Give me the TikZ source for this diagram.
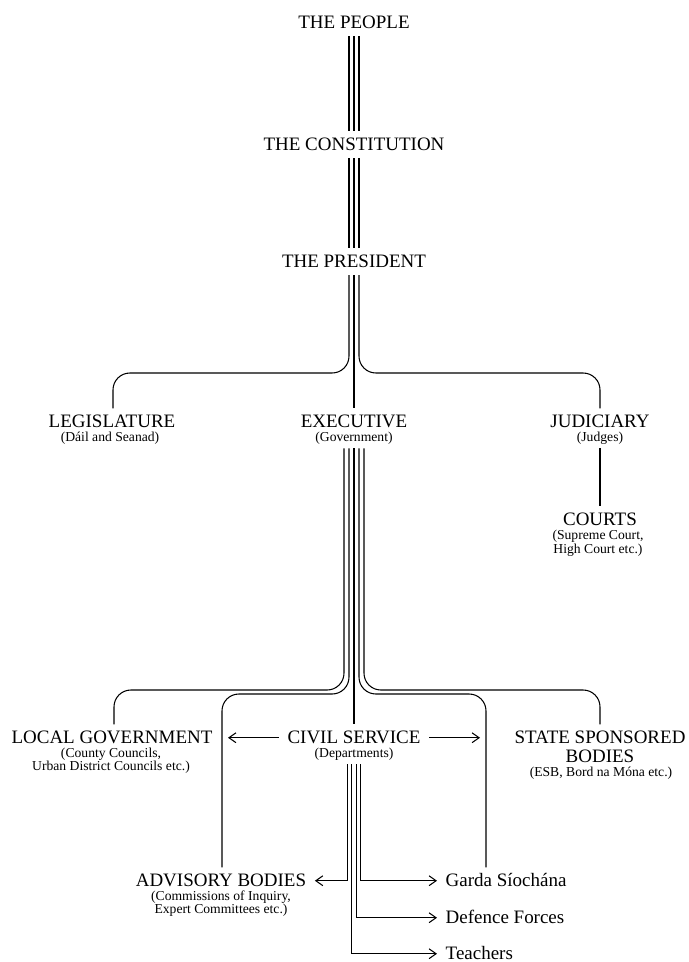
\documentclass[tikz,border=0pt]{standalone}
\usepackage{fontspec}
\setmainfont{Liberation Serif}
\usetikzlibrary{calc}
\usetikzlibrary{arrows.meta}

\tikzset{
  big/.style={font=\fontsize{13.5}{16}\selectfont, anchor=base,
    inner xsep=6pt, inner ysep=4pt, text height=9pt, text depth=1.5pt},
  small/.style={font=\fontsize{9.7}{11}\selectfont, anchor=base,
    inner xsep=2pt, inner ysep=3pt},
  link/.style={line width=0.75pt, rounded corners=12pt},
  feed/.style={line width=0.75pt, -{Straight Barb[length=5pt,width=7pt]}}
}

\begin{document}
\begin{tikzpicture}[x=0.025cm, y=-0.025cm]
\useasboundingbox (0,0) rectangle (689,962);

\def\axis{354}
\def\gap{5}
\def\fan{4.5}

%---------------------------------------
% Top of the chain
%---------------------------------------
\node[big] (people)       at (\axis,28)  {THE PEOPLE};
\node[big] (constitution) at (\axis,150) {THE CONSTITUTION};
\node[big] (president)    at (\axis,267) {THE PRESIDENT};

\foreach \dx in {-\gap,0,\gap} {
  \draw[link] ($(people.south)+(\dx,0)$) -- ($(constitution.north)+(\dx,0)$);
  \draw[link] ($(constitution.south)+(\dx,0)$) -- ($(president.north)+(\dx,0)$);
}

%---------------------------------------
% Three branches
%---------------------------------------
\node[big]   (legis)    at (112,427)   {LEGISLATURE};
\node[small] (legisSub) at (110,441)   {(Dáil and Seanad)};
\node[big]   (exec)     at (\axis,427) {EXECUTIVE};
\node[small] (execSub)  at (\axis,441) {(Government)};
\node[big]   (judic)    at (600,427)   {JUDICIARY};
\node[small] (judicSub) at (600,441)   {(Judges)};

\coordinate (legisTurn) at (113,373);
\coordinate (judicTurn) at (600,373);

\draw[link] ($(president.south)+(-\gap,0)$) |- (legisTurn) -- (legisTurn |- legis.north);
\draw[link] (president.south) -- (exec.north);
\draw[link] ($(president.south)+(\gap,0)$) |- (judicTurn) -- (judicTurn |- judic.north);

% ---- courts under the judges ----
\node[big]   (courts)     at (600,525) {COURTS};
\node[small] (courtsSubA) at (598,539) {(Supreme Court,};
\node[small] (courtsSubB) at (598,553) {High Court etc.)};
\draw[link] (judicSub.south) -- (courts.north);

%---------------------------------------
% Under the executive
%---------------------------------------
\node[big]   (local)     at (112,743)   {LOCAL GOVERNMENT};
\node[small] (localSubA) at (111,757)   {(County Councils,};
\node[small] (localSubB) at (111,770)   {Urban District Councils etc.)};
\node[big]   (civil)     at (\axis,743) {CIVIL SERVICE};
\node[small] (civilSub)  at (\axis,757) {(Departments)};
\node[big]   (state)     at (600,743)   {STATE SPONSORED};
\node[big]   (stateB)    at (600,762)   {BODIES};
\node[small] (stateSub)  at (601,776)   {(ESB, Bord na Móna etc.)};

\node[big]   (advisory)     at (221,886) {ADVISORY BODIES};
\node[small] (advisorySubA) at (221,900) {(Commissions of Inquiry,};
\node[small] (advisorySubB) at (221,913) {Expert Committees etc.)};
\node[big, anchor=base west] (garda)    at (437,886) {Garda Síochána};
\node[big, anchor=base west] (defence)  at (437,923) {Defence Forces};
\node[big, anchor=base west] (teachers) at (437,959) {Teachers};

\coordinate (localTurn) at (114,690);
\coordinate (advTurn)   at (222,694);
\coordinate (gardaTurn) at (486,694);
\coordinate (stateTurn) at (600,690);

\draw[link] ($(execSub.south)+(-2*\gap,0)$) |- (localTurn) -- (localTurn |- local.north);
\draw[link] ($(execSub.south)+(-\gap,0)$) |- (advTurn) -- (advTurn |- advisory.north);
\draw[link] (execSub.south) -- (civil.north);
\draw[link] ($(execSub.south)+(\gap,0)$) |- (gardaTurn) -- (gardaTurn |- garda.north);
\draw[link] ($(execSub.south)+(2*\gap,0)$) |- (stateTurn) -- (stateTurn |- state.north);

% ---- civil service arrows ----
\draw[feed] (civil.west) -- ($(civil.west -| advTurn)+(6,0)$);
\draw[feed] (civil.east) -- ($(civil.east -| gardaTurn)+(-6,0)$);

\draw[feed] ($(civilSub.south)+(-1.5*\fan,0)$) |- (advisory.east);
\draw[feed] ($(civilSub.south)+(-0.5*\fan,0)$) |- (teachers.west);
\draw[feed] ($(civilSub.south)+(0.5*\fan,0)$)  |- (defence.west);
\draw[feed] ($(civilSub.south)+(1.5*\fan,0)$)  |- (garda.west);

\end{tikzpicture}
\end{document}
